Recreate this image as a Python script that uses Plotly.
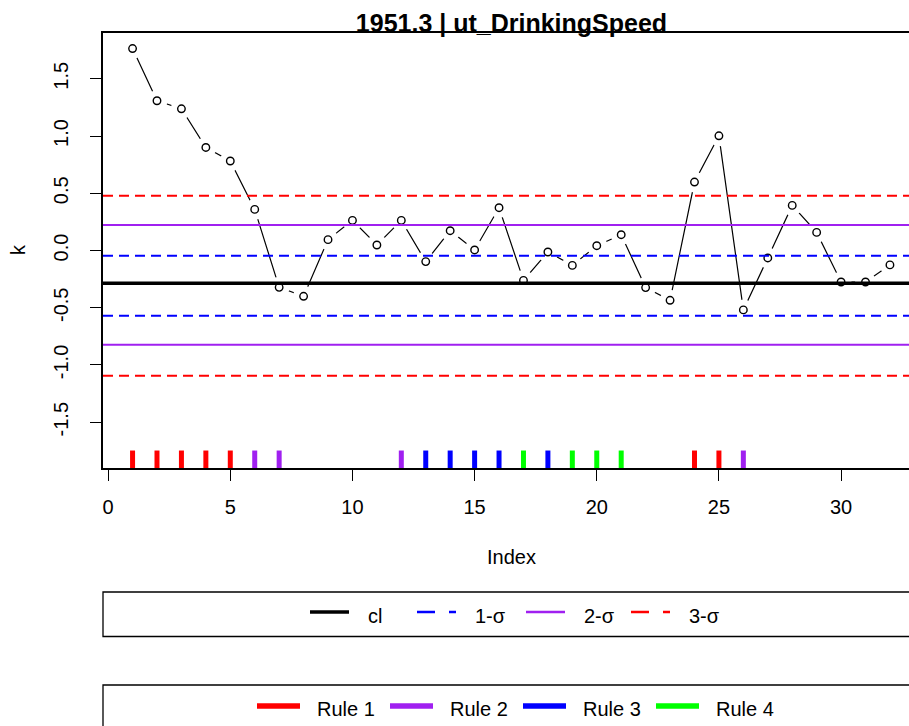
import plotly.graph_objects as go

# ---- data -------------------------------------------------------------
index = list(range(1, 33))
k = [1.764, 1.308, 1.238, 0.900, 0.782, 0.359, -0.322, -0.400, 0.095, 0.263,
     0.048, 0.263, -0.097, 0.173, 0.005, 0.374, -0.261, -0.013, -0.130, 0.042,
     0.138, -0.324, -0.435, 0.598, 1.002, -0.519, -0.065, 0.394, 0.158, -0.275,
     -0.275, -0.126]

center_line = -0.287
sigma1 = [-0.045, -0.571]
sigma2 = [0.223, -0.824]
sigma3 = [0.479, -1.095]

rule1 = [1, 2, 3, 4, 5, 24, 25]
rule2 = [6, 7, 12, 26]
rule3 = [13, 14, 15, 16, 18]
rule4 = [17, 19, 20, 21]

x_ticks = [0, 5, 10, 15, 20, 25, 30]
y_ticks = [-1.5, -1.0, -0.5, 0.0, 0.5, 1.0, 1.5]
y_ticktext = ["-1.5", "-1.0", "-0.5", "0.0", "0.5", "1.0", "1.5"]

title = "1951.3 | ut_DrinkingSpeed"

# ---- styling ----------------------------------------------------------
W, H = 909, 726
ML, MT = 103, 33
PLOT_BOTTOM = 468
MB = H - PLOT_BOTTOM
PLOT_W = W - ML
PLOT_H = PLOT_BOTTOM - MT
FONT = "Liberation Sans, Arial, sans-serif"
FS = 20

RED, PURPLE, BLUE, GREEN = "#FF0000", "#A020F0", "#0000FF", "#00FF00"

X_RANGE = [-0.21, 32.78]
Y_RANGE = [-1.90, 1.90]


def px(x):
    return (x - ML) / PLOT_W


def py(y):
    return (PLOT_BOTTOM - y) / PLOT_H


fig = go.Figure()

# connecting line, with white discs that open a gap around each point
fig.add_trace(go.Scatter(x=index, y=k, mode="lines",
                         line=dict(color="black", width=1.2),
                         hoverinfo="skip", showlegend=False))
fig.add_trace(go.Scatter(x=index, y=k, mode="markers",
                         marker=dict(symbol="circle", size=21, color="white",
                                     line=dict(width=0)),
                         hoverinfo="skip", showlegend=False))
fig.add_trace(go.Scatter(x=index, y=k, mode="markers", name="k",
                         marker=dict(symbol="circle-open", size=7.5,
                                     color="black", line=dict(width=1.4)),
                         showlegend=False))

# rule violation ticks along the bottom of the panel
rule_y = -1.839
for name, pts, col in [("Rule 1", rule1, RED), ("Rule 2", rule2, PURPLE),
                       ("Rule 3", rule3, BLUE), ("Rule 4", rule4, GREEN)]:
    fig.add_trace(go.Scatter(x=pts, y=[rule_y] * len(pts), mode="markers",
                             name=name,
                             marker=dict(symbol="line-ns", size=15,
                                         line=dict(color=col, width=5)),
                             showlegend=False))

# control limits
for yv in sigma3:
    fig.add_hline(y=yv, line=dict(color=RED, width=2, dash="10px,6px"), layer="above")
for yv in sigma2:
    fig.add_hline(y=yv, line=dict(color=PURPLE, width=2), layer="above")
for yv in sigma1:
    fig.add_hline(y=yv, line=dict(color=BLUE, width=2, dash="10px,6px"), layer="above")
fig.add_hline(y=center_line, line=dict(color="black", width=3.5), layer="above")

annotations = []

# legend boxes
fig.add_shape(type="rect", xref="paper", yref="paper",
              x0=px(103), x1=px(960), y0=py(592), y1=py(636.5),
              line=dict(color="black", width=1.3), fillcolor="rgba(0,0,0,0)")
fig.add_shape(type="rect", xref="paper", yref="paper",
              x0=px(103), x1=px(960), y0=py(685), y1=py(760),
              line=dict(color="black", width=1.3), fillcolor="rgba(0,0,0,0)")

legend1 = [("cl", 310, 366, "black", "solid", 3.3),
           ("1-σ", 417, 473, BLUE, "18px,14px", 2.6),
           ("2-σ", 526, 582, PURPLE, "solid", 2.6),
           ("3-σ", 631, 687, RED, "18px,14px", 2.6)]
for label, lx, tx, col, dash, wd in legend1:
    fig.add_shape(type="line", xref="paper", yref="paper",
                  x0=px(lx), x1=px(lx + 39), y0=py(612), y1=py(612),
                  line=dict(color=col, width=wd, dash=dash))
    annotations.append(dict(text=label, xref="paper", yref="paper",
                            x=px(tx), y=py(615.5), xanchor="left", yanchor="middle",
                            showarrow=False, font=dict(family=FONT, size=FS, color="black")))

legend2 = [("Rule 1", 257, 315, RED), ("Rule 2", 390, 448, PURPLE),
           ("Rule 3", 523, 581, BLUE), ("Rule 4", 656, 714, GREEN)]
for label, lx, tx, col in legend2:
    fig.add_shape(type="line", xref="paper", yref="paper",
                  x0=px(lx), x1=px(lx + 43), y0=py(706), y1=py(706),
                  line=dict(color=col, width=5.5))
    annotations.append(dict(text=label, xref="paper", yref="paper",
                            x=px(tx), y=py(709), xanchor="left", yanchor="middle",
                            showarrow=False, font=dict(family=FONT, size=FS, color="black")))

# axis titles
annotations.append(dict(text="Index", xref="paper", yref="paper",
                        x=px(512), y=py(556.5), xanchor="center", yanchor="middle",
                        showarrow=False, font=dict(family=FONT, size=FS, color="black")))
annotations.append(dict(text="k", xref="paper", yref="paper", textangle=-90,
                        x=px(18), y=py(250), xanchor="center", yanchor="middle",
                        showarrow=False, font=dict(family=FONT, size=FS, color="black")))

fig.update_layout(
    width=W, height=H,
    margin=dict(l=ML, r=0, t=MT, b=MB, pad=0),
    paper_bgcolor="white", plot_bgcolor="white",
    showlegend=False,
    font=dict(family=FONT, size=FS, color="black"),
    title=dict(text="<b>" + title + "</b>", xref="container", yref="container",
               x=511.5 / W, y=1 - 23 / H, xanchor="center", yanchor="middle",
               font=dict(family=FONT, size=25, color="black")),
    annotations=annotations,
)

fig.update_xaxes(range=X_RANGE, tickvals=x_ticks, ticks="outside", ticklen=11,
                 tickwidth=1.3, tickcolor="black", showline=True, linecolor="black",
                 linewidth=1.5, mirror=True, showgrid=False, zeroline=False,
                 ticklabelstandoff=9, tickfont=dict(family=FONT, size=FS))
fig.update_yaxes(range=Y_RANGE, tickvals=y_ticks, ticktext=y_ticktext,
                 tickangle=-90, ticks="outside", ticklen=11, tickwidth=1.3,
                 tickcolor="black", showline=True, linecolor="black", linewidth=1.5,
                 mirror=False, showgrid=False, zeroline=False,
                 ticklabelstandoff=14, tickfont=dict(family=FONT, size=FS))

fig.write_html("out.html")
